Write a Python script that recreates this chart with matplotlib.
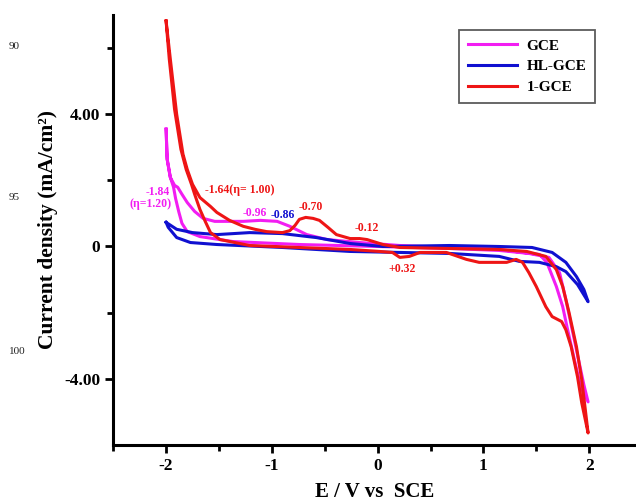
import numpy as np
import matplotlib.pyplot as plt
from matplotlib.ticker import FixedLocator

plt.rcParams['font.family'] = ['Liberation Serif', 'DejaVu Serif']
plt.rcParams['font.weight'] = 'bold'
plt.rcParams['axes.unicode_minus'] = False

# CV curves (E in V, j in mA/cm2); each loop = forward + back branch
red_a_x = [-2.00, -1.96, -1.90, -1.84, -1.80, -1.75, -1.68, -1.58, -1.52, -1.40, -1.27, -1.16,
           -1.05, -0.90, -0.83, -0.78, -0.74, -0.68, -0.61, -0.55, -0.47, -0.39, -0.26, -0.17,
           -0.10, 0.05, 0.21, 0.68, 1.15, 1.41, 1.59, 1.69, 1.75, 1.81, 1.88, 1.93, 1.99]
red_a_y = [6.82, 5.67, 4.00, 2.79, 2.33, 1.88, 1.48, 1.21, 1.03, 0.79, 0.61, 0.52,
           0.45, 0.42, 0.48, 0.64, 0.82, 0.88, 0.85, 0.79, 0.58, 0.36, 0.24, 0.24,
           0.21, 0.06, -0.03, -0.06, -0.09, -0.15, -0.30, -0.70, -1.21, -2.00, -3.03, -4.03, -5.64]
red_b_x = [-2.00, -1.97, -1.92, -1.86, -1.81, -1.76, -1.73, -1.68, -1.63, -1.58, -1.49, -1.21,
           -0.74, -0.26, 0.02, 0.14, 0.21, 0.30, 0.40, 0.65, 0.84, 0.96, 1.22, 1.31, 1.37,
           1.43, 1.50, 1.59, 1.65, 1.74, 1.78, 1.83, 1.89, 1.93, 1.99]
red_b_y = [6.82, 5.67, 4.15, 2.94, 2.33, 1.88, 1.58, 1.12, 0.76, 0.42, 0.21, 0.03,
           -0.03, -0.09, -0.15, -0.18, -0.33, -0.30, -0.18, -0.18, -0.39, -0.48, -0.48, -0.39, -0.48,
           -0.79, -1.21, -1.82, -2.12, -2.27, -2.52, -3.03, -3.94, -4.73, -5.64]

gce_a_x = [-2.00, -1.99, -1.96, -1.92, -1.89, -1.85, -1.80, -1.73, -1.65, -1.54, -1.27, -1.11,
           -0.95, -0.83, -0.67, -0.48, -0.17, 0.21, 0.68, 1.15, 1.37, 1.53, 1.60, 1.69, 1.75,
           1.79, 1.86, 1.92, 1.99]
gce_a_y = [3.55, 2.64, 2.09, 1.85, 1.79, 1.58, 1.33, 1.06, 0.85, 0.76, 0.76, 0.79,
           0.76, 0.61, 0.36, 0.21, 0.12, 0.03, -0.03, -0.09, -0.18, -0.24, -0.48, -1.21, -1.82,
           -2.42, -3.42, -4.24, -4.70]
gce_b_x = [-2.00, -1.99, -1.96, -1.93, -1.91, -1.88, -1.85, -1.80, -1.68, -1.37, -0.74, 0.00,
           0.68, 1.15, 1.43, 1.62, 1.72, 1.78, 1.84, 1.91, 1.95, 1.99]
gce_b_y = [3.55, 2.64, 2.09, 1.80, 1.45, 1.05, 0.70, 0.45, 0.30, 0.15, 0.06, 0.00,
           -0.06, -0.12, -0.21, -0.33, -0.79, -1.61, -2.52, -3.58, -4.18, -4.70]

hl_a_x = [-2.00, -1.90, -1.75, -1.52, -1.21, -0.90, -0.58, -0.26, 0.05, 0.68, 1.15, 1.46,
          1.65, 1.78, 1.88, 1.95, 1.99]
hl_a_y = [0.73, 0.52, 0.42, 0.36, 0.42, 0.39, 0.27, 0.09, 0.00, 0.03, 0.00, -0.03,
          -0.18, -0.48, -0.91, -1.30, -1.67]
hl_b_x = [-2.00, -1.98, -1.90, -1.77, -1.52, -0.90, -0.26, 0.21, 0.68, 1.15, 1.34, 1.53,
          1.69, 1.78, 1.89, 1.99]
hl_b_y = [0.73, 0.58, 0.27, 0.12, 0.06, -0.03, -0.15, -0.18, -0.21, -0.30, -0.45, -0.48,
          -0.61, -0.76, -1.15, -1.67]

series = ['GCE', 'HL-GCE', '1-GCE']
colors = ['#f21df2', '#1010d0', '#ee1515']

# peak labels: text, x, y, colour index
peak_text = ['-1.84', '(\u03b7=1.20)', '-1.64(\u03b7= 1.00)', '-0.96', '-0.86', '-0.70', '-0.12', '+0.32']
peak_x = [-2.08, -2.15, -1.30, -1.16, -0.90, -0.63, -0.10, 0.23]
peak_y = [1.66, 1.29, 1.72, 1.00, 0.94, 1.20, 0.55, -0.67]
peak_c = [0, 0, 2, 0, 1, 2, 2, 2]

yticks = [-4, 0, 4]
ytick_labels = ['-4.00', '0', '4.00']
xticks = [-2, -1, 0, 1, 2]

fig = plt.figure(figsize=(6.36, 5.01), dpi=100)
ax = fig.add_axes([0.178, 0.112, 0.822, 0.858])

loops = [(gce_a_x, gce_a_y, gce_b_x, gce_b_y),
         (hl_a_x, hl_a_y, hl_b_x, hl_b_y),
         (red_a_x, red_a_y, red_b_x, red_b_y)]
for (ax_, ay_, bx_, by_), name, c in zip(loops, series, colors):
    x = np.concatenate([ax_, bx_[::-1]])
    y = np.concatenate([ay_, by_[::-1]])
    ax.plot(x, y, color=c, lw=2.2, label=name, solid_joinstyle='round')

for t, x, y, ci in zip(peak_text, peak_x, peak_y, peak_c):
    ax.text(x, y, t, color=colors[ci], fontsize=8.5, fontweight='bold', ha='center', va='center')

ax.set_xlim(-2.5, 2.443)
ax.set_ylim(-6, 7)
ax.set_xticks(xticks)
ax.set_yticks(yticks)
ax.set_yticklabels(ytick_labels)
ax.xaxis.set_minor_locator(FixedLocator([-2.5, -1.5, -0.5, 0.5, 1.5]))
ax.yaxis.set_minor_locator(FixedLocator([-2, 2, 6]))

for s in ['top', 'right']:
    ax.spines[s].set_visible(False)
for s in ['left', 'bottom']:
    ax.spines[s].set_linewidth(2.2)
ax.tick_params(which='major', direction='out', length=6, width=2, labelsize=12.5)
ax.tick_params(which='minor', direction='out', length=4, width=2)
for lab in ax.get_xticklabels() + ax.get_yticklabels():
    lab.set_fontweight('bold')

ax.set_xlabel('E / V vs  SCE', fontsize=15, fontweight='bold', labelpad=6)
ax.set_ylabel('Current density (mA/cm\u00b2)', fontsize=15.5, fontweight='bold', labelpad=4)

leg = ax.legend(loc='upper left', bbox_to_anchor=(0.647, 0.983), frameon=True, fancybox=False,
                edgecolor='#333333', fontsize=11, handlelength=3.2, borderpad=0.6,
                labelspacing=0.45, handletextpad=0.6)
leg.get_frame().set_linewidth(1.3)
for t in leg.get_texts():
    t.set_fontweight('bold')

# stray line numbers on the left margin of the source page
for txt, yy in [('90', 0.902), ('95', 0.600), ('100', 0.293)]:
    fig.text(0.014, yy, txt, fontsize=8, fontweight='normal', color='#222222')

fig.savefig('out.png', dpi=100)
